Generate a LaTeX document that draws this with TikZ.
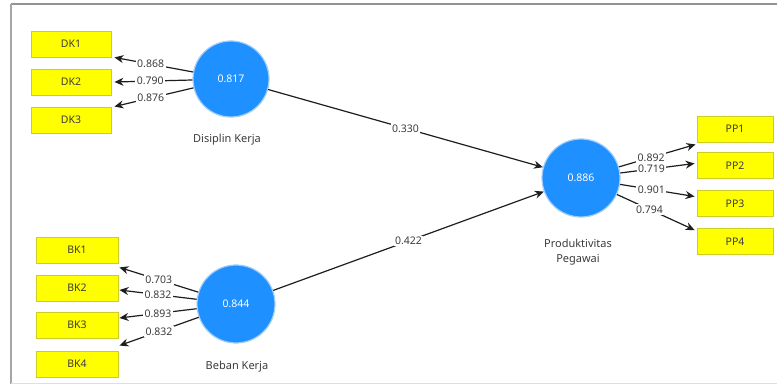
\documentclass[tikz,border=0pt]{standalone}
\usepackage{fontspec}
\setmainfont{Noto Sans}
\usetikzlibrary{arrows.meta}
\definecolor{lvblue}{RGB}{30,144,255}
\definecolor{lvglow}{RGB}{160,205,250}
\definecolor{indyel}{RGB}{255,255,0}
\definecolor{indedge}{RGB}{205,205,40}
\definecolor{txtgray}{RGB}{60,60,60}
\tikzset{
  latent/.style={circle, fill=lvblue, draw=lvglow, line width=1.2pt, minimum size=76pt, inner sep=0pt, text=white, font=\fontsize{10.5}{12}\selectfont},
  indic/.style={rectangle, fill=indyel, draw=indedge, line width=0.9pt, minimum height=26pt, inner sep=0pt, text=txtgray, font=\fontsize{10.5}{12}\selectfont},
  arr/.style={draw={rgb,255:red,30;green,30;blue,30}, line width=1.2pt, -{Stealth[length=9pt,width=8pt]}},
  lbl/.style={fill=white, inner sep=1.5pt, text=txtgray, font=\fontsize{10.5}{12}\selectfont},
  lvcaption/.style={text=txtgray, font=\fontsize{11}{15}\selectfont, align=center}
}
\begin{document}
\begin{tikzpicture}[x={(1pt,0)}, y={(0,-1pt)}]
\useasboundingbox (0,0) rectangle (777,385);
\fill[white] (0,0) rectangle (777,385);
% frame
\draw[gray!85, line width=1.6pt] (11,4) -- (777,4);
\draw[gray!70, line width=1.6pt] (11,4) -- (11,384);
\draw[gray!25, line width=1.2pt] (11,383.5) -- (777,383.5);

% latent variables
\node[latent] (dkj) at (231,79) {0.817};
\node[latent, minimum size=78pt] (bkj) at (236,304) {0.844};
\node[latent, minimum size=78pt] (ppj) at (581,178) {0.886};
\node[lvcaption] (dkcap) at (227,140) {Disiplin Kerja};
\node[lvcaption] (bkcap) at (237,367) {Beban Kerja};
\node[lvcaption] (ppcap) at (578,252) {Produktivitas\\Pegawai};

% indicators
\node[indic, minimum width=80pt] (dk1) at (71,44) {DK1};
\node[indic, minimum width=80pt] (dk2) at (71,82) {DK2};
\node[indic, minimum width=80pt] (dk3) at (71,120) {DK3};
\node[indic, minimum width=82pt] (bk1) at (77,250) {BK1};
\node[indic, minimum width=82pt] (bk2) at (77,288) {BK2};
\node[indic, minimum width=82pt] (bk3) at (77,325) {BK3};
\node[indic, minimum width=82pt] (bk4) at (77,364) {BK4};
\node[indic, minimum width=76pt] (pp1) at (735,129) {PP1};
\node[indic, minimum width=76pt] (pp2) at (735,165.5) {PP2};
\node[indic, minimum width=76pt] (pp3) at (735,203.5) {PP3};
\node[indic, minimum width=76pt] (pp4) at (735,241.5) {PP4};

% arrow tip coordinates
\coordinate (tdk1) at ([xshift=3pt]dk1.south east);
\coordinate (tdk2) at ([xshift=3pt]dk2.east);
\coordinate (tdk3) at ([xshift=3pt]dk3.north east);
\coordinate (tbk1) at ([xshift=1pt,yshift=-4pt]bk1.south east);
\coordinate (tbk2) at ([xshift=1pt,yshift=-2pt]bk2.east);
\coordinate (tbk3) at ([xshift=1pt,yshift=7pt]bk3.east);
\coordinate (tbk4) at ([xshift=1pt,yshift=5pt]bk4.north east);
\coordinate (tpp1) at ([xshift=-1pt,yshift=-2pt]pp1.south west);
\coordinate (tpp2) at ([xshift=-2pt,yshift=2pt]pp2.west);
\coordinate (tpp3) at ([xshift=-2pt,yshift=7pt]pp3.west);
\coordinate (tpp4) at ([xshift=-2pt,yshift=-2pt]pp4.north west);

% outer loadings
\draw[arr] (dkj) -- node[lbl, pos=0.54] {0.868} (tdk1);
\draw[arr] (dkj) -- node[lbl, pos=0.54] {0.790} (tdk2);
\draw[arr] (dkj) -- node[lbl, pos=0.54] {0.876} (tdk3);
\draw[arr] (bkj) -- node[lbl] {0.703} (tbk1);
\draw[arr] (bkj) -- node[lbl] {0.832} (tbk2);
\draw[arr] (bkj) -- node[lbl] {0.893} (tbk3);
\draw[arr] (bkj) -- node[lbl] {0.832} (tbk4);
\draw[arr] (ppj) -- node[lbl, pos=0.42] {0.892} (tpp1);
\draw[arr] (ppj) -- node[lbl, pos=0.42] {0.719} (tpp2);
\draw[arr] (ppj) -- node[lbl, pos=0.42] {0.901} (tpp3);
\draw[arr] (ppj) -- node[lbl, pos=0.42] {0.794} (tpp4);

% path coefficients
\draw[arr] (dkj) -- node[lbl] {0.330} (ppj);
\draw[arr] (bkj) -- node[lbl] {0.422} (ppj);
\end{tikzpicture}
\end{document}
